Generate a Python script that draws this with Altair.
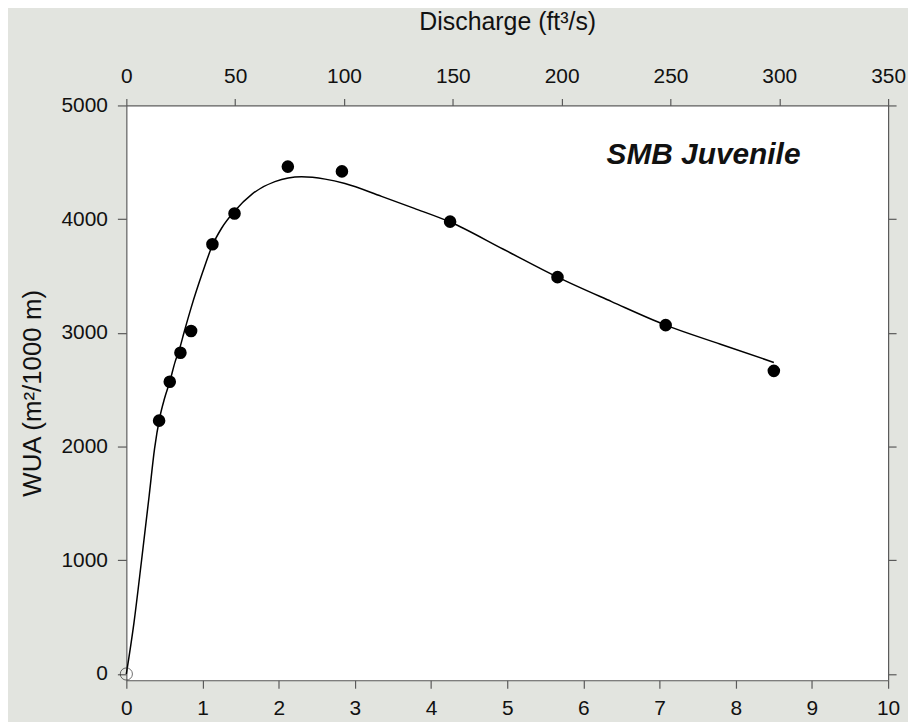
import altair as alt
import pandas as pd

# ---- data ----
# bottom axis: discharge in m3/s ; top axis: discharge in ft3/s
x_ticks = [0, 1, 2, 3, 4, 5, 6, 7, 8, 9, 10]
cfs_ticks = [0, 50, 100, 150, 200, 250, 300, 350]
y_ticks = [0, 1000, 2000, 3000, 4000, 5000]

obs_q = [0.43, 0.57, 0.71, 0.85, 1.13, 1.42, 2.12, 2.83, 4.25, 5.66, 7.08, 8.50]
obs_wua = [2228, 2570, 2825, 3016, 3779, 4050, 4462, 4420, 3978, 3490, 3068, 2666]

fit_q = [0.0, 0.10, 0.20, 0.30, 0.37, 0.44, 0.50, 0.57, 0.64, 0.69, 0.76, 0.85, 1.0,
         1.13, 1.25, 1.42, 1.65, 1.95, 2.30, 2.61, 2.87, 3.35, 3.78, 4.25, 4.95,
         5.66, 6.37, 7.08, 7.80, 8.50]
fit_wua = [0, 450, 1000, 1570, 1980, 2260, 2420, 2570, 2745, 2840, 3010, 3220, 3530,
           3770, 3920, 4070, 4220, 4330, 4372, 4352, 4313, 4200, 4095, 3975, 3735,
           3490, 3275, 3068, 2900, 2740]

origin_q = [0.0]
origin_wua = [0]

label_text = ["SMB Juvenile"]
label_q = [8.85]
label_wua = [4484]

# ---- chart ----
FONT = "Liberation Sans"
AX = "#5a5a5a"

fit_df = pd.DataFrame({"q": fit_q, "wua": fit_wua})
obs_df = pd.DataFrame({"q": obs_q, "wua": obs_wua})
origin_df = pd.DataFrame({"q": origin_q, "wua": origin_wua})
label_df = pd.DataFrame({"q": label_q, "wua": label_wua, "t": label_text})
top_df = pd.DataFrame({"cfs": cfs_ticks, "wua": [0] * len(cfs_ticks)})

xs = alt.Scale(domain=[0, 10], nice=False, zero=False)
ys = alt.Scale(domain=[-55, 5000], nice=False, zero=False)

common_axis = dict(grid=False, domainColor=AX, tickColor=AX, domainWidth=1.2,
                   tickWidth=1.2, labelFont=FONT, labelFontSize=21,
                   labelColor="#111111", titleFont=FONT,
                   titleFontWeight="normal", titleColor="#111111",
                   labelFlush=False, labelOverlap=False)

x_axis = alt.Axis(orient="bottom", values=x_ticks, title=None, tickSize=8,
                  labelPadding=9, format="d", **common_axis)
y_axis = alt.Axis(orient="left", values=y_ticks, title="WUA (m²/1000 m)", tickSize=9,
                  labelPadding=10, format="d", titleX=-86, titleBaseline="alphabetic",
                  titleFontSize=26, **common_axis)

X = alt.X("q:Q", scale=xs, axis=x_axis)
Y = alt.Y("wua:Q", scale=ys, axis=y_axis)

line = alt.Chart(fit_df).mark_line(color="black", strokeWidth=1.5,
                                   interpolate="monotone").encode(x=X, y=Y)
pts = alt.Chart(obs_df).mark_circle(size=160, color="black", opacity=1).encode(x=X, y=Y)
origin = alt.Chart(origin_df).mark_point(shape="circle", size=150, filled=False,
                                         color="#333333", strokeWidth=1).encode(x=X, y=Y)
label = alt.Chart(label_df).mark_text(font=FONT, fontSize=30, fontWeight="bold",
                                      fontStyle="italic", align="right",
                                      baseline="alphabetic", color="#111111").encode(
    x=X, y=Y, text="t:N",
)

top = alt.Chart(top_df).mark_point(opacity=0).encode(
    x=alt.X("cfs:Q", scale=alt.Scale(domain=[0, 350], nice=False, zero=False),
            axis=alt.Axis(orient="top", values=cfs_ticks, title="Discharge (ft³/s)",
                          tickSize=7, labelPadding=12, format="d", titleY=-76,
                          titleBaseline="alphabetic", titleFontSize=25,
                          **common_axis)),
    y=alt.Y("wua:Q", scale=ys,
            axis=alt.Axis(orient="right", values=y_ticks, labels=False, title=None,
                          tickSize=8, **common_axis)),
)

inner = alt.layer(line, pts, origin, label)
chart = alt.layer(inner, top).resolve_scale(x="independent", y="independent").properties(
    width=766, height=578,
    autosize=alt.AutoSizeParams(type="none"),
    padding={"left": 119, "top": 96, "right": 20, "bottom": 40},
    background="#e2e4df",
).configure_view(fill="white", stroke=None)

chart.save("out.html", embed_options={"renderer": "svg", "actions": False})
